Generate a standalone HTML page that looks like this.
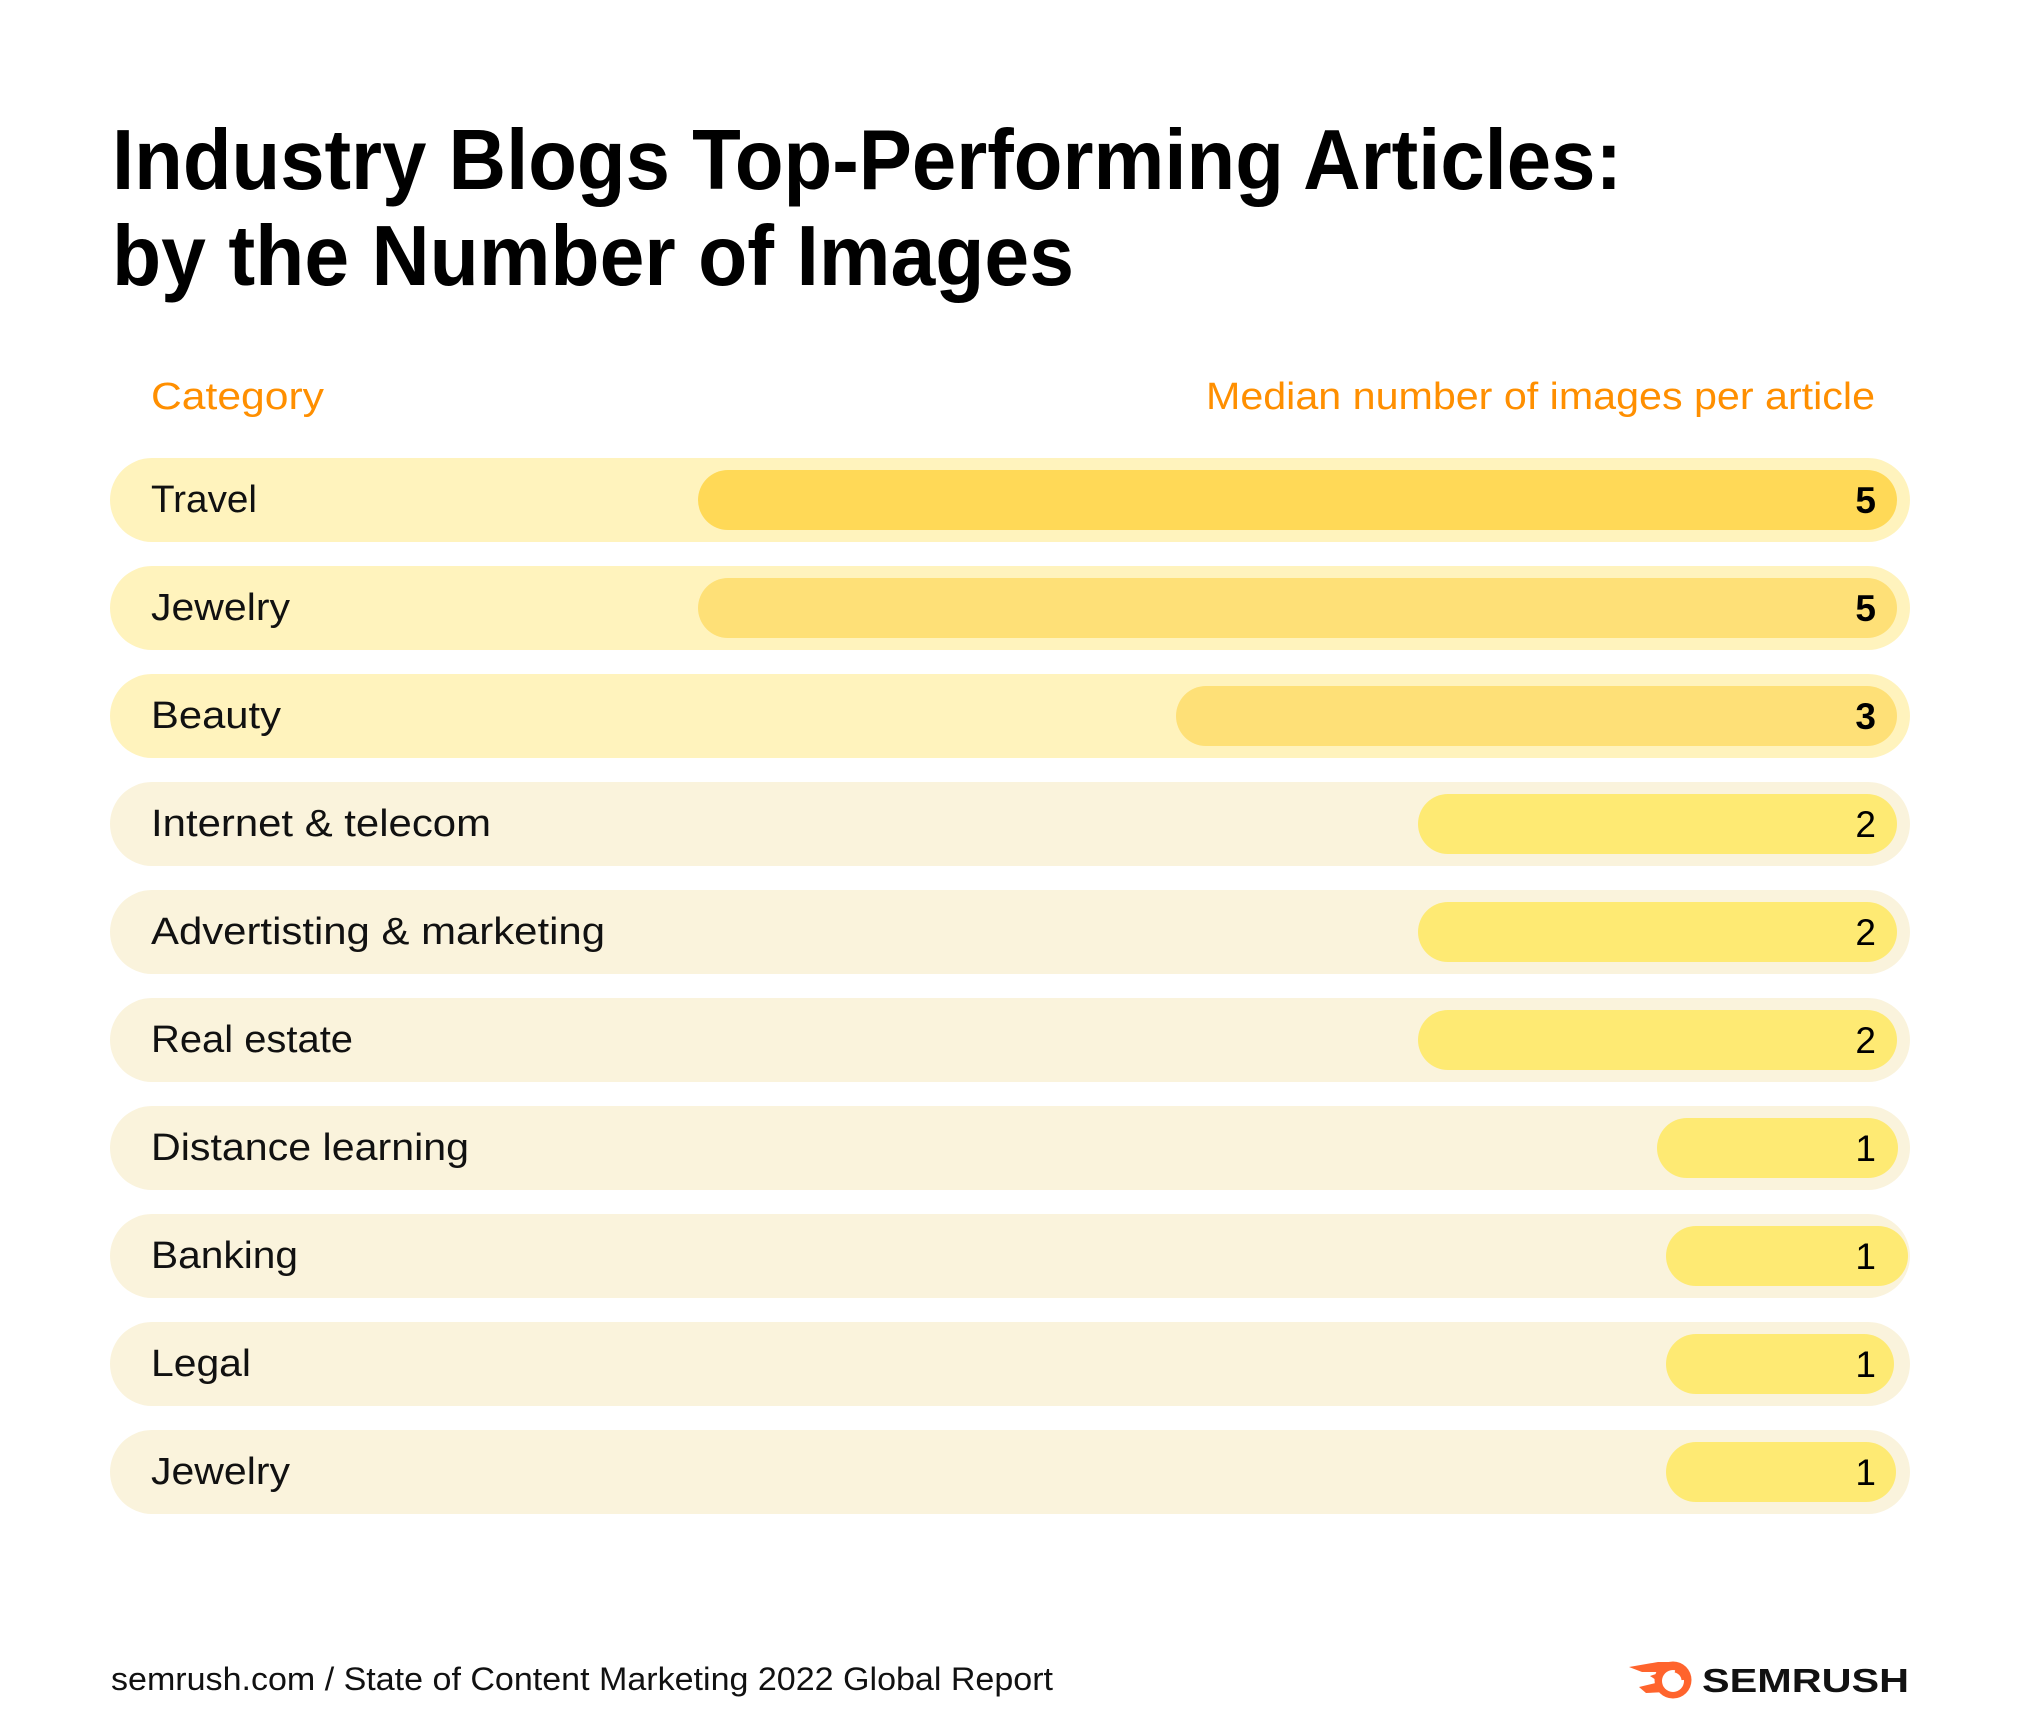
<!DOCTYPE html>
<html>
<head>
<meta charset="utf-8">
<style>
  html,body{margin:0;padding:0;background:#fff;}
  svg{display:block;}
  text{font-family:"Liberation Sans",Arial,sans-serif;}
</style>
</head>
<body>
<svg width="2020" height="1734" viewBox="0 0 2020 1734" xmlns="http://www.w3.org/2000/svg">
  <rect x="0" y="0" width="2020" height="1734" fill="#ffffff"/>

  <!-- Title -->
  <text x="112" y="189" font-size="85" font-weight="bold" fill="#000" textLength="1510" lengthAdjust="spacingAndGlyphs">Industry Blogs Top-Performing Articles:</text>
  <text x="112" y="285" font-size="85" font-weight="bold" fill="#000" textLength="962" lengthAdjust="spacingAndGlyphs">by the Number of Images</text>

  <!-- Column headers -->
  <text x="151" y="409" font-size="38" fill="#FF8F00" textLength="173" lengthAdjust="spacingAndGlyphs">Category</text>
  <text x="1206" y="409" font-size="38" fill="#FF8F00" textLength="669" lengthAdjust="spacingAndGlyphs">Median number of images per article</text>

  <!-- Row 1: Travel -->
  <rect x="110" y="458" width="1800" height="84" rx="42" fill="#FFF3BD"/>
  <rect x="698" y="470" width="1199" height="60" rx="30" fill="#FFD957"/>
  <text x="151" y="512" font-size="38" fill="#111" textLength="106" lengthAdjust="spacingAndGlyphs">Travel</text>
  <text x="1876" y="513" font-size="37" font-weight="bold" fill="#000" text-anchor="end">5</text>

  <!-- Row 2: Jewelry -->
  <rect x="110" y="566" width="1800" height="84" rx="42" fill="#FFF3BD"/>
  <rect x="698" y="578" width="1199" height="60" rx="30" fill="#FEE077"/>
  <text x="151" y="620" font-size="38" fill="#111" textLength="139" lengthAdjust="spacingAndGlyphs">Jewelry</text>
  <text x="1876" y="621" font-size="37" font-weight="bold" fill="#000" text-anchor="end">5</text>

  <!-- Row 3: Beauty -->
  <rect x="110" y="674" width="1800" height="84" rx="42" fill="#FFF3BD"/>
  <rect x="1176" y="686" width="721" height="60" rx="30" fill="#FEE077"/>
  <text x="151" y="728" font-size="38" fill="#111" textLength="130" lengthAdjust="spacingAndGlyphs">Beauty</text>
  <text x="1876" y="729" font-size="37" font-weight="bold" fill="#000" text-anchor="end">3</text>

  <!-- Row 4: Internet & telecom -->
  <rect x="110" y="782" width="1800" height="84" rx="42" fill="#FAF3DC"/>
  <rect x="1418" y="794" width="479" height="60" rx="30" fill="#FEEA73"/>
  <text x="151" y="836" font-size="38" fill="#111" textLength="340" lengthAdjust="spacingAndGlyphs">Internet &amp; telecom</text>
  <text x="1876" y="837" font-size="37" fill="#000" text-anchor="end">2</text>

  <!-- Row 5: Advertisting & marketing -->
  <rect x="110" y="890" width="1800" height="84" rx="42" fill="#FAF3DC"/>
  <rect x="1418" y="902" width="479" height="60" rx="30" fill="#FEEA73"/>
  <text x="151" y="944" font-size="38" fill="#111" textLength="454" lengthAdjust="spacingAndGlyphs">Advertisting &amp; marketing</text>
  <text x="1876" y="945" font-size="37" fill="#000" text-anchor="end">2</text>

  <!-- Row 6: Real estate -->
  <rect x="110" y="998" width="1800" height="84" rx="42" fill="#FAF3DC"/>
  <rect x="1418" y="1010" width="479" height="60" rx="30" fill="#FEEA73"/>
  <text x="151" y="1052" font-size="38" fill="#111" textLength="202" lengthAdjust="spacingAndGlyphs">Real estate</text>
  <text x="1876" y="1053" font-size="37" fill="#000" text-anchor="end">2</text>

  <!-- Row 7: Distance learning -->
  <rect x="110" y="1106" width="1800" height="84" rx="42" fill="#FAF3DC"/>
  <rect x="1657" y="1118" width="241" height="60" rx="30" fill="#FEEA73"/>
  <text x="151" y="1160" font-size="38" fill="#111" textLength="318" lengthAdjust="spacingAndGlyphs">Distance learning</text>
  <text x="1876" y="1161" font-size="37" fill="#000" text-anchor="end">1</text>

  <!-- Row 8: Banking -->
  <rect x="110" y="1214" width="1800" height="84" rx="42" fill="#FAF3DC"/>
  <rect x="1666" y="1226" width="242" height="60" rx="30" fill="#FEEA73"/>
  <text x="151" y="1268" font-size="38" fill="#111" textLength="147" lengthAdjust="spacingAndGlyphs">Banking</text>
  <text x="1876" y="1269" font-size="37" fill="#000" text-anchor="end">1</text>

  <!-- Row 9: Legal -->
  <rect x="110" y="1322" width="1800" height="84" rx="42" fill="#FAF3DC"/>
  <rect x="1666" y="1334" width="228" height="60" rx="30" fill="#FEEA73"/>
  <text x="151" y="1376" font-size="38" fill="#111" textLength="100" lengthAdjust="spacingAndGlyphs">Legal</text>
  <text x="1876" y="1377" font-size="37" fill="#000" text-anchor="end">1</text>

  <!-- Row 10: Jewelry -->
  <rect x="110" y="1430" width="1800" height="84" rx="42" fill="#FAF3DC"/>
  <rect x="1666" y="1442" width="230" height="60" rx="30" fill="#FEEA73"/>
  <text x="151" y="1484" font-size="38" fill="#111" textLength="139" lengthAdjust="spacingAndGlyphs">Jewelry</text>
  <text x="1876" y="1485" font-size="37" fill="#000" text-anchor="end">1</text>

  <!-- Footer -->
  <text x="111" y="1690" font-size="32" fill="#111" textLength="942" lengthAdjust="spacingAndGlyphs">semrush.com / State of Content Marketing 2022 Global Report</text>

  <!-- Semrush logo -->
  <g>
    <path d="M1629,1667 L1658,1662 L1676,1662 L1668,1672 L1642,1672 Z" fill="#FF642D"/>
    <path d="M1639,1687 L1660,1682 L1666,1692 L1646,1693 Z" fill="#FF642D"/>
    <path d="M1650,1676 L1662,1672 L1662,1684 Z" fill="#FF642D"/>
    <circle cx="1673" cy="1680" r="18.5" fill="#FF642D"/>
    <circle cx="1673" cy="1681" r="11" fill="#ffffff"/>
    <path d="M1675,1671 A10,10 0 0 1 1683,1680" stroke="#FF642D" stroke-width="3" fill="none"/>
  </g>
  <text x="1702" y="1692" font-size="33" font-weight="bold" fill="#111" textLength="207" lengthAdjust="spacingAndGlyphs">SEMRUSH</text>
</svg>
</body>
</html>
